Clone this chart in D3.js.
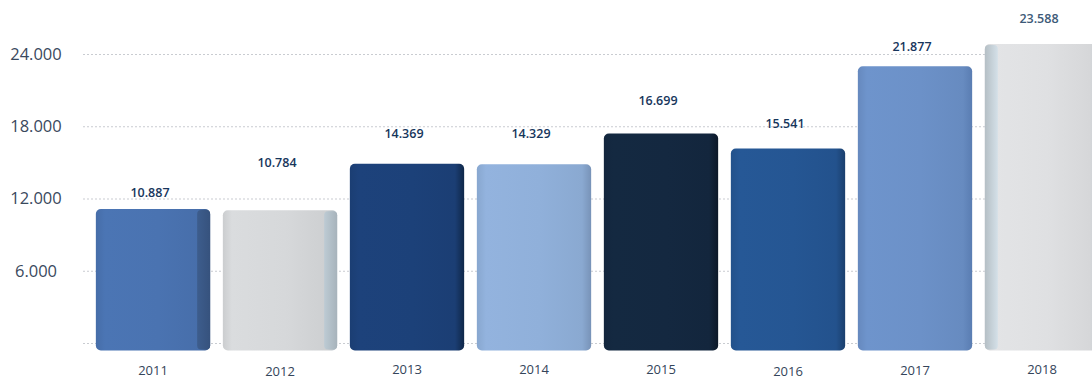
<!DOCTYPE html>
<html>
<head>
<meta charset="utf-8">
<script src="https://cdn.jsdelivr.net/npm/d3@7"></script>
<style>
  html, body { margin: 0; padding: 0; background: #ffffff; }
  svg { display: block; font-family: "Open Sans", "Noto Sans", sans-serif; }
</style>
</head>
<body>
<svg id="chart" width="1092" height="379"></svg>
<script>
// Yearly totals
const years  = ["2011", "2012", "2013", "2014", "2015", "2016", "2017", "2018"];
const values = [10887, 10784, 14369, 14329, 16699, 15541, 21877, 23588];
const yTicks = [6000, 12000, 18000, 24000];

// Bar styling: front colour, edge colour and which side carries the bevel face
const barFront = ["#4a73b1", "#d6d8da", "#1c4179", "#90b0da", "#142840", "#255693", "#6c91c8", "#dfe0e2"];
const barEdge  = ["#3a5886", "#b3c0c9", "#0f2749", "#7893b8", "#0c1828", "#1a3f6d", "#5a7db2", "#c2cdd4"];
const barFace  = ["right", "right", "none", "none", "none", "none", "none", "left"];
// Extra lift of each value label above its bar top, and small drift of the year labels
const labelLift = [12, 43, 26, 26, 28, 20, 15, 21];
const yearDrop  = [0, 1, -1, -1, -1, 1, 0, -1];

const svg = d3.select("#chart");
const W = 1092;

const x = d3.scaleBand().domain(years).range([89.5, 1105.5]).paddingInner(0.1).paddingOuter(0.05);
const y = d3.scaleLinear().domain([0, 24000]).range([350.4, 38.6]);
const yGrid = d3.scaleLinear().domain([0, 24000]).range([343, 54]);

const fmt = d3.formatLocale({ decimal: ",", thousands: ".", grouping: [3], currency: ["", ""] }).format(",");

const rows = years.map((yr, i) => ({
  year: yr, value: values[i], front: barFront[i], edge: barEdge[i],
  face: barFace[i], lift: labelLift[i], drop: yearDrop[i], i
}));

// Gradients for the bars and their side faces
const defs = svg.append("defs");
rows.forEach(r => {
  const g = defs.append("linearGradient").attr("id", "g" + r.i)
    .attr("x1", "0").attr("x2", "1").attr("y1", "0").attr("y2", "0");
  const front = d3.color(r.front);
  g.append("stop").attr("offset", "0%").attr("stop-color", front.darker(0.15));
  g.append("stop").attr("offset", "8%").attr("stop-color", front.brighter(0.05));
  g.append("stop").attr("offset", "55%").attr("stop-color", front);
  g.append("stop").attr("offset", "92%").attr("stop-color", front.darker(0.12));
  g.append("stop").attr("offset", "100%").attr("stop-color", r.edge);

  const s = defs.append("linearGradient").attr("id", "s" + r.i)
    .attr("x1", "0").attr("x2", "1").attr("y1", "0").attr("y2", "0");
  const edge = d3.color(r.edge);
  s.append("stop").attr("offset", "0%").attr("stop-color", r.face === "left" ? edge.darker(0.2) : edge.brighter(0.15));
  s.append("stop").attr("offset", "100%").attr("stop-color", r.face === "left" ? edge.brighter(0.25) : edge.darker(0.2));
});

// Dotted grid lines with tick labels
const gridAxis = d3.axisLeft(yGrid).tickValues([0].concat(yTicks)).tickSize(-(W - 83)).tickFormat("");
const grid = svg.append("g").attr("transform", "translate(83,0)").call(gridAxis);
grid.select(".domain").remove();
grid.selectAll(".tick line")
  .attr("stroke", "#c9ccd1").attr("stroke-width", 1.2).attr("stroke-dasharray", "2,2");

svg.append("g").selectAll("text").data(yTicks).join("text")
  .attr("x", 36).attr("y", d => yGrid(d)).attr("dy", "0.36em")
  .attr("text-anchor", "middle").attr("font-size", 16.5).attr("font-weight", 500).attr("fill", "#3a495d")
  .text(d => fmt(d));

// Bars
const bars = svg.append("g").selectAll("g").data(rows).join("g");
bars.append("rect")
  .attr("x", d => x(d.year))
  .attr("y", d => y(d.value))
  .attr("width", x.bandwidth())
  .attr("height", d => y(0) - y(d.value))
  .attr("rx", 5).attr("ry", 5)
  .attr("fill", d => `url(#g${d.i})`);

// Bevelled side faces
const faceW = 13;
bars.filter(d => d.face !== "none").append("rect")
  .attr("x", d => d.face === "right" ? x(d.year) + x.bandwidth() - faceW : x(d.year))
  .attr("y", d => y(d.value) + 1)
  .attr("width", faceW)
  .attr("height", d => y(0) - y(d.value) - 2)
  .attr("rx", 4).attr("ry", 4)
  .attr("fill", d => `url(#s${d.i})`);

// Value labels
svg.append("g").selectAll("text").data(rows).join("text")
  .attr("x", d => x(d.year) + x.bandwidth() / 2 - 3)
  .attr("y", d => y(d.value) - d.lift)
  .attr("text-anchor", "middle").attr("font-size", 12.5).attr("font-weight", 600)
  .attr("fill", d => d.i === 7 ? "#3d5a78" : "#17365c")
  .text(d => fmt(d.value));

// Year labels
svg.append("g").selectAll("text").data(rows).join("text")
  .attr("x", d => x(d.year) + x.bandwidth() / 2)
  .attr("y", d => 375 + d.drop)
  .attr("text-anchor", "middle").attr("font-size", 13).attr("fill", "#34455a")
  .text(d => d.year);
</script>
</body>
</html>
